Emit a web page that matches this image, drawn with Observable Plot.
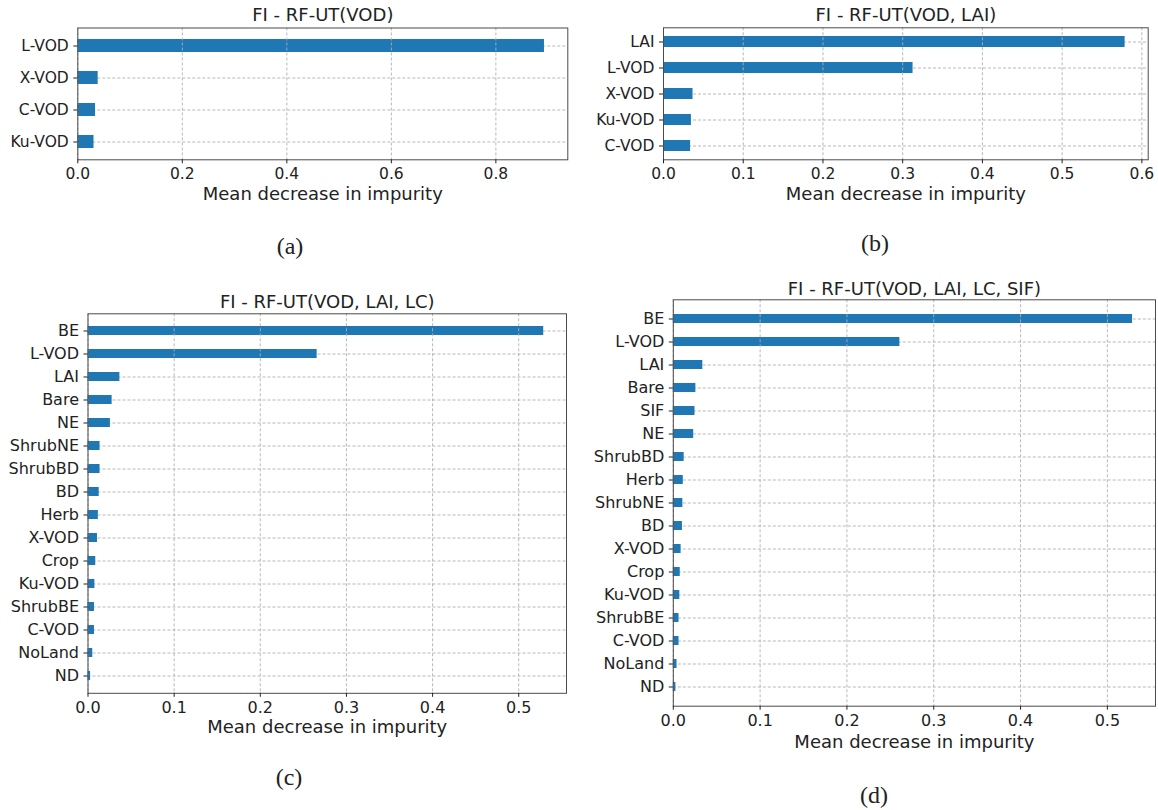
<!DOCTYPE html>
<html>
<head>
<meta charset="utf-8">
<script src="https://cdn.jsdelivr.net/npm/d3@7"></script>
<script src="https://cdn.jsdelivr.net/npm/@observablehq/plot@0.6"></script>
<style>
  html, body { margin: 0; padding: 0; background: #fff; }
  #page { position: relative; width: 1158px; height: 810px; background: #fff; overflow: hidden; }
  .panel { position: absolute; }
  .sub { position: absolute; font-family: "Liberation Serif", "DejaVu Serif", serif; font-size: 24px; color: #222; transform: translate(-50%, -50%); white-space: nowrap; }
</style>
</head>
<body>
<div id="page"></div>
<script>
// Feature importances (mean decrease in impurity) of the RF-UT models

// (a) RF-UT(VOD)
const featuresA = ["L-VOD", "X-VOD", "C-VOD", "Ku-VOD"];
const importanceA = [0.893, 0.039, 0.034, 0.031];
const ticksA = [0, 0.2, 0.4, 0.6, 0.8];

// (b) RF-UT(VOD, LAI)
const featuresB = ["LAI", "L-VOD", "X-VOD", "Ku-VOD", "C-VOD"];
const importanceB = [0.579, 0.313, 0.037, 0.035, 0.034];
const ticksB = [0, 0.1, 0.2, 0.3, 0.4, 0.5, 0.6];

// (c) RF-UT(VOD, LAI, LC)
const featuresC = ["BE", "L-VOD", "LAI", "Bare", "NE", "ShrubNE", "ShrubBD", "BD", "Herb",
                   "X-VOD", "Crop", "Ku-VOD", "ShrubBE", "C-VOD", "NoLand", "ND"];
const importanceC = [0.529, 0.266, 0.037, 0.028, 0.026, 0.014, 0.014, 0.013, 0.012,
                     0.011, 0.009, 0.008, 0.0075, 0.0075, 0.0055, 0.003];
const ticksC = [0, 0.1, 0.2, 0.3, 0.4, 0.5];

// (d) RF-UT(VOD, LAI, LC, SIF)
const featuresD = ["BE", "L-VOD", "LAI", "Bare", "SIF", "NE", "ShrubBD", "Herb", "ShrubNE", "BD",
                   "X-VOD", "Crop", "Ku-VOD", "ShrubBE", "C-VOD", "NoLand", "ND"];
const importanceD = [0.529, 0.261, 0.034, 0.026, 0.025, 0.0235, 0.0125, 0.0115, 0.011, 0.0105,
                     0.009, 0.008, 0.0075, 0.0066, 0.0066, 0.0043, 0.003];
const ticksD = [0, 0.1, 0.2, 0.3, 0.4, 0.5];

const titles = ["FI - RF-UT(VOD)", "FI - RF-UT(VOD, LAI)", "FI - RF-UT(VOD, LAI, LC)", "FI - RF-UT(VOD, LAI, LC, SIF)"];
const subLabels = ["(a)", "(b)", "(c)", "(d)"];
const xLabel = "Mean decrease in impurity";

const BAR = "#1f77b4";
const GRID = "#b0b0b0";
const INK = "#222";

function importancePlot({features, importance, ticks, title, box, tickFont, titleDy, labelDy}) {
  const data = features.map((f, i) => ({feature: f, value: importance[i]}));
  const xmax = d3.max(importance) * 1.05;
  const grid = {stroke: GRID, strokeOpacity: 1, strokeWidth: 0.9, strokeDasharray: "3,2"};
  return Plot.plot({
    width: box.width,
    height: box.height,
    marginLeft: box.ml,
    marginRight: box.mr,
    marginTop: box.mt,
    marginBottom: box.mb,
    style: {fontFamily: "DejaVu Sans, sans-serif", color: INK, background: "transparent", overflow: "visible"},
    x: {domain: [0, xmax]},
    y: {domain: features, paddingInner: 0.59, paddingOuter: 0.295},
    marks: [
      Plot.gridY(features, grid),
      Plot.barX(data, {x: "value", y: "feature", fill: BAR}),
      Plot.gridX(ticks, grid),
      Plot.frame({stroke: "#4a4a4a", strokeWidth: 1}),
      Plot.axisX(ticks, {tickFormat: d3.format(".1f"), tickSize: 4, tickPadding: 4, fontSize: tickFont, label: null}),
      Plot.axisY({tickSize: 4, tickPadding: 5, fontSize: tickFont, label: null}),
      Plot.text([title], {text: d => d, frameAnchor: "top", lineAnchor: "middle", dy: titleDy, fontSize: 18}),
      Plot.text([xLabel], {text: d => d, frameAnchor: "bottom", lineAnchor: "middle", dy: labelDy, fontSize: 18})
    ]
  });
}

const panels = [
  {features: featuresA, importance: importanceA, ticks: ticksA, title: titles[0], left: 0, top: 0,
   box: {width: 580, height: 215, ml: 77.3, mr: 12.7, mt: 27.5, mb: 55.7}, tickFont: 15.5, titleDy: -13, labelDy: 34.5,
   sub: {x: 290, y: 246}},
  {features: featuresB, importance: importanceB, ticks: ticksB, title: titles[1], left: 580, top: 0,
   box: {width: 578, height: 215, ml: 83, mr: 10.3, mt: 27.3, mb: 55.7}, tickFont: 15.5, titleDy: -13, labelDy: 34.5,
   sub: {x: 875, y: 243}},
  {features: featuresC, importance: importanceC, ticks: ticksC, title: titles[2], left: 0, top: 270,
   box: {width: 580, height: 480, ml: 87.5, mr: 14, mt: 43.3, mb: 57.2}, tickFont: 16, titleDy: -12, labelDy: 33.5,
   sub: {x: 289, y: 777}},
  {features: featuresD, importance: importanceD, ticks: ticksD, title: titles[3], left: 580, top: 260,
   box: {width: 578, height: 500, ml: 92.8, mr: 3, mt: 39.3, mb: 54.3}, tickFont: 16, titleDy: -11, labelDy: 36,
   sub: {x: 874, y: 795}}
];

const page = document.getElementById("page");
panels.forEach((p, i) => {
  const holder = document.createElement("div");
  holder.className = "panel";
  holder.style.left = p.left + "px";
  holder.style.top = p.top + "px";
  holder.appendChild(importancePlot(p));
  page.appendChild(holder);

  const sub = document.createElement("div");
  sub.className = "sub";
  sub.style.left = p.sub.x + "px";
  sub.style.top = p.sub.y + "px";
  sub.textContent = subLabels[i];
  page.appendChild(sub);
});
</script>
</body>
</html>
